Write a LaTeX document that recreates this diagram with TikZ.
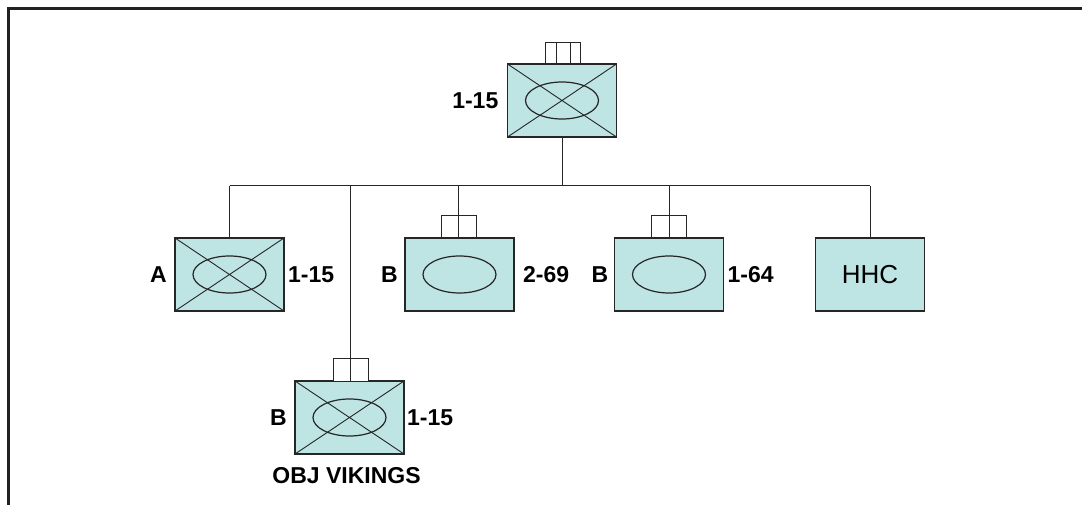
\documentclass[tikz,border=0pt]{standalone}
\usepackage{fontspec}
\setmainfont{Liberation Sans}
\usetikzlibrary{shapes.geometric}
\definecolor{unitfill}{RGB}{190,228,228}
\definecolor{framecol}{RGB}{34,34,34}
\begin{document}
\begin{tikzpicture}[x=1pt,y=-1pt,
  unit/.style={draw=black!85, fill=unitfill, line width=1.1pt, minimum width=109pt, minimum height=73pt, inner sep=0pt, outer sep=0pt},
  oval/.style={draw=black!85, ellipse, line width=1.2pt, minimum width=73pt, minimum height=37pt, inner sep=0pt, outer sep=0pt},
  marker/.style={draw=black!85, fill=white, line width=1pt, minimum width=35pt, minimum height=22pt, inner sep=0pt, outer sep=0pt, anchor=south},
  lbl/.style={font=\fontsize{23}{23}\selectfont\bfseries, inner sep=0pt},
  link/.style={draw=black!85, line width=1pt},
  xline/.style={draw=black!85, line width=0.9pt},
]
\useasboundingbox (0,0) rectangle (1082,505);
\fill[white] (0,0) rectangle (1082,505);
\draw[framecol, line width=2.5pt] (8.5,505) -- (8.5,8.5) -- (1082,8.5);

% --- units ---
\node[unit] (top) at (562,100.5) {};
\node[unit] (aU) at (229.5,274.5) {};
\node[unit] (b69) at (459.5,274.5) {};
\node[unit] (b64) at (669,274.5) {};
\node[unit] (hhc) at (870,274.5) {\fontsize{26}{26}\selectfont HHC};
\node[unit] (obj) at (349.5,417.5) {};

% crosses
\foreach \u in {top,aU,obj}{
  \draw[xline] (\u.north west) -- (\u.south east) (\u.north east) -- (\u.south west);
}
% ovals
\node[oval] (topo) at (top.center) {};
\node[oval] (aUo) at (aU.center) {};
\node[oval] (b69o) at (b69.center) {};
\node[oval] (b64o) at (b64.center) {};
\node[oval] (objo) at (obj.center) {};

% echelon markers
\node[marker, minimum height=21pt] (topm) at (562.5,64) {};
\draw[xline] ([xshift=-5.8pt]topm.north) -- ([xshift=-5.8pt]topm.south);
\draw[xline] ([xshift=8.2pt]topm.north) -- ([xshift=8.2pt]topm.south);
\node[marker] (b69m) at (458.5,238) {};
\node[marker] (b64m) at (669,238) {};
\node[marker, minimum height=23pt] (objm) at (350.5,381) {};
\foreach \m in {b69m,b64m,objm}{
  \draw[xline] (\m.north) -- (\m.south);
}

% --- connectors ---
\coordinate (bus) at (230,186);
\draw[link] (top.south) -- (top.south |- bus);
\draw[link] (aU.north |- bus) -- (hhc.north |- bus);
\draw[link] (aU.north |- bus) -- (aU.north);
\draw[link] (objm.north |- bus) -- (objm.north);
\draw[link] (b69m.north |- bus) -- (b69m.north);
\draw[link] (b64m.north |- bus) -- (b64m.north);
\draw[link] (hhc.north |- bus) -- (hhc.north);

% --- labels ---
\node[lbl, anchor=east] (topl) at ([xshift=-9pt]top.west) {1-15};
\node[lbl, anchor=east] (aUl) at ([xshift=-8pt]aU.west) {A};
\node[lbl, anchor=west] (aUr) at ([xshift=4pt]aU.east) {1-15};
\node[lbl, anchor=east] (b69l) at ([xshift=-7pt]b69.west) {B};
\node[lbl, anchor=west] (b69r) at ([xshift=9pt]b69.east) {2-69};
\node[lbl, anchor=east] (b64l) at ([xshift=-6pt]b64.west) {B};
\node[lbl, anchor=west] (b64r) at ([xshift=4pt]b64.east) {1-64};
\node[lbl, anchor=east] (objl) at ([xshift=-8pt]obj.west) {B};
\node[lbl, anchor=west] (objr) at ([xshift=3pt]obj.east) {1-15};
\node[lbl] (objn) at (346.5,476) {OBJ VIKINGS};
\end{tikzpicture}
\end{document}
